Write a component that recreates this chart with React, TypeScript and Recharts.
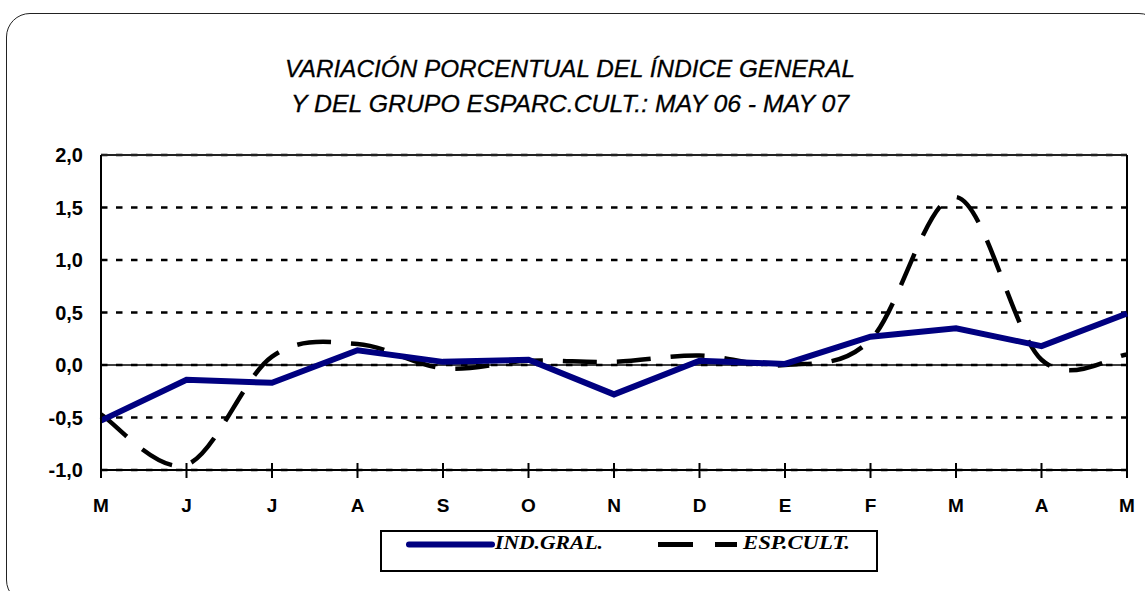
import React from "react";
import {
  LineChart,
  Line,
  XAxis,
  YAxis,
  CartesianGrid,
  ReferenceLine,
  Legend,
} from "recharts";

// ── Data ─────────────────────────────────────────────────────────────────────

const months = ["M", "J", "J", "A", "S", "O", "N", "D", "E", "F", "M", "A", "M"];
const indGral = [-0.53, -0.14, -0.17, 0.14, 0.03, 0.05, -0.28, 0.04, 0.01, 0.27, 0.35, 0.18, 0.49];
const espCult = [-0.47, -0.95, 0.08, 0.2, -0.03, 0.04, 0.03, 0.09, 0.0, 0.24, 1.6, 0.05, 0.1];
const yTicks = [-1, -0.5, 0, 0.5, 1, 1.5, 2];

const data = months.map((m, i) => ({ i, month: m, ind: indGral[i], esp: espCult[i] }));

const NAVY = "#000080";
const FONT = "'Liberation Sans', Arial, sans-serif";
const SERIF = "'Liberation Serif', 'Times New Roman', serif";

// ── Excel-style smoothed line (Catmull-Rom through the points) ──────────────

const excelSmooth: any = (ctx: any) => {
  let pts: number[][] = [];
  return {
    areaStart() {},
    areaEnd() {},
    lineStart() {
      pts = [];
    },
    lineEnd() {
      const n = pts.length;
      if (!n) return;
      ctx.moveTo(pts[0][0], pts[0][1]);
      for (let k = 0; k < n - 1; k++) {
        const p0 = pts[Math.max(k - 1, 0)];
        const p1 = pts[k];
        const p2 = pts[k + 1];
        const p3 = pts[Math.min(k + 2, n - 1)];
        ctx.bezierCurveTo(
          p1[0] + (p2[0] - p0[0]) / 6,
          p1[1] + (p2[1] - p0[1]) / 6,
          p2[0] - (p3[0] - p1[0]) / 6,
          p2[1] - (p3[1] - p1[1]) / 6,
          p2[0],
          p2[1]
        );
      }
    },
    point(x: number, y: number) {
      pts.push([+x, +y]);
    },
  };
};

// ── Ticks ────────────────────────────────────────────────────────────────────

function MonthTick(props: any) {
  const { x, y, payload } = props;
  return (
    <g>
      <line x1={x} x2={x} y1={y - 7} y2={y + 8} stroke="#000" strokeWidth={2} />
      <text
        x={x}
        y={y + 42}
        textAnchor="middle"
        fill="#000"
        fontSize={19}
        fontWeight="bold"
        fontFamily={FONT}
      >
        {months[payload.value]}
      </text>
    </g>
  );
}

// ── Legend ───────────────────────────────────────────────────────────────────

function LegendBox() {
  return (
    <div
      style={{
        width: 498,
        height: 42,
        border: "2px solid #000",
        boxSizing: "border-box",
        background: "#fff",
      }}
    >
      <svg width={494} height={38} style={{ display: "block" }}>
        <line x1={27} x2={110} y1={12.5} y2={12.5} stroke={NAVY} strokeWidth={6} strokeLinecap="round" />
        <text
          x={113}
          y={17}
          fontFamily={SERIF}
          fontStyle="italic"
          fontWeight="bold"
          fontSize={18}
          textLength={108}
          lengthAdjust="spacingAndGlyphs"
          fill="#000"
        >
          IND.GRAL.
        </text>
        <line x1={276} x2={355} y1={12.5} y2={12.5} stroke="#000" strokeWidth={5} strokeDasharray="35 22" />
        <text
          x={361}
          y={17}
          fontFamily={SERIF}
          fontStyle="italic"
          fontWeight="bold"
          fontSize={18}
          textLength={107}
          lengthAdjust="spacingAndGlyphs"
          fill="#000"
        >
          ESP.CULT.
        </text>
      </svg>
    </div>
  );
}

// ── Component ────────────────────────────────────────────────────────────────

export default function App() {
  return (
    <div
      style={{
        position: "absolute",
        left: 0,
        top: 0,
        width: 1145,
        height: 591,
        overflow: "hidden",
        background: "#fff",
      }}
    >
      <div
        style={{
          position: "absolute",
          left: 6,
          top: 13,
          width: 1155,
          height: 589,
          border: "1.5px solid #222",
          borderRadius: 24,
        }}
      />
      <svg width={1145} height={130} style={{ position: "absolute", left: 0, top: 0 }}>
        <text
          x={285}
          y={77}
          fontFamily={FONT}
          fontStyle="italic"
          fontSize={24}
          textLength={570}
          lengthAdjust="spacingAndGlyphs"
          fill="#000"
          stroke="#000"
          strokeWidth={0.3}
        >
          VARIACIÓN PORCENTUAL DEL ÍNDICE GENERAL
        </text>
        <text
          x={291}
          y={112}
          fontFamily={FONT}
          fontStyle="italic"
          fontSize={24}
          textLength={558}
          lengthAdjust="spacingAndGlyphs"
          fill="#000"
          stroke="#000"
          strokeWidth={0.3}
        >
          Y DEL GRUPO ESPARC.CULT.: MAY 06 - MAY 07
        </text>
      </svg>
      <div style={{ position: "absolute", left: 0, top: 0 }}>
        <LineChart
          width={1145}
          height={591}
          data={data}
          margin={{ top: 155, right: 18, left: 0, bottom: 71 }}
        >
          <CartesianGrid
            horizontal
            vertical={false}
            stroke="#000"
            strokeWidth={2.5}
            strokeDasharray="6.5 8.5"
          />
          <XAxis
            dataKey="i"
            type="number"
            domain={[0, 12]}
            ticks={months.map((_, i) => i)}
            interval={0}
            height={50}
            tickSize={0}
            tickMargin={0}
            tickLine={false}
            axisLine={{ stroke: "#000", strokeWidth: 2 }}
            tick={<MonthTick />}
          />
          <YAxis
            type="number"
            domain={[-1, 2]}
            ticks={yTicks}
            interval={0}
            width={101}
            tickSize={0}
            tickMargin={18}
            tickLine={false}
            axisLine={{ stroke: "#000", strokeWidth: 2 }}
            tickFormatter={(v: number) => v.toFixed(1).replace(".", ",")}
            tick={{ fill: "#000", fontSize: 20, fontWeight: "bold", fontFamily: FONT }}
          />
          <ReferenceLine y={2} stroke="#222" strokeWidth={2} />
          <ReferenceLine x={12} stroke="#000" strokeWidth={2} />
          <ReferenceLine y={0} stroke="#000" strokeWidth={1.5} />
          <Line
            dataKey="esp"
            type={excelSmooth}
            stroke="#000"
            strokeWidth={4.5}
            strokeDasharray="34 20"
            dot={false}
            activeDot={false}
            isAnimationActive={false}
          />
          <Line
            dataKey="ind"
            type="linear"
            stroke={NAVY}
            strokeWidth={6}
            dot={false}
            activeDot={false}
            isAnimationActive={false}
          />
          <Legend
            layout="vertical"
            align="center"
            verticalAlign="middle"
            wrapperStyle={{ left: 380, top: 530, width: 498, height: 42 }}
            content={() => <LegendBox />}
          />
        </LineChart>
      </div>
    </div>
  );
}
